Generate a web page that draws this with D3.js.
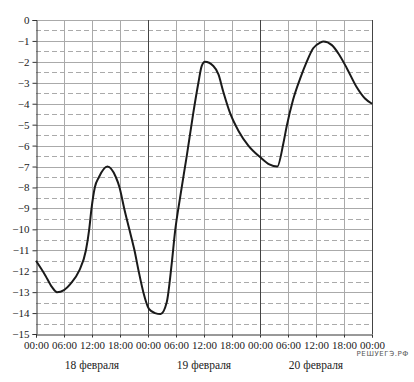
<!DOCTYPE html>
<html><head><meta charset="utf-8">
<script src="https://cdn.jsdelivr.net/npm/d3@7"></script>
<style>html,body{margin:0;padding:0;background:#fff}svg{display:block}
.serif text, text.serif{font-family:"Liberation Serif","DejaVu Serif","Times New Roman",serif !important;}</style>
</head><body>
<script>
// Data (hours since 18 Feb 00:00, temperature °C)
const hours = [0,2,3.4,4.5,6,7.6,9.2,10.7,11.4,11.9,12.6,13.5,15.3,17.1,17.9,18.9,20,21.1,22.0,23.0,24.2,25.5,26.7,28,29.1,29.8,30.9,32.3,33.7,34.8,35.5,36.2,38,39.1,40.1,41.6,43.4,45.5,48,50,51.7,53,53.7,55.1,56.6,58,59.4,60.9,61.6,63.4,64.8,66.6,68.7,70.5,72];
const temps = [-11.5,-12.2,-12.75,-13.0,-12.9,-12.55,-12.0,-11.0,-10.0,-9.0,-8.0,-7.5,-7.0,-7.5,-8.0,-9.0,-10.0,-11.0,-12.0,-13.0,-13.8,-14.0,-14.05,-13.5,-11.6,-10.1,-8.45,-6.5,-4.45,-3.0,-2.2,-2.0,-2.2,-2.6,-3.4,-4.45,-5.3,-6.0,-6.55,-6.9,-7.0,-5.9,-5.1,-3.8,-2.8,-2.0,-1.35,-1.08,-1.03,-1.2,-1.6,-2.3,-3.2,-3.75,-4.0];
const yTicks = [0,-1,-2,-3,-4,-5,-6,-7,-8,-9,-10,-11,-12,-13,-14,-15];
const xTickHours = [0,6,12,18,24,30,36,42,48,54,60,66,72];
const xTickLabels = ["00:00","06:00","12:00","18:00","00:00","06:00","12:00","18:00","00:00","06:00","12:00","18:00","00:00"];
const dayLabels = ["18 февраля","19 февраля","20 февраля"];
const dayCenters = [12,36,60];
const dayLines = [24,48,72];

const W=414,H=382;
const x=d3.scaleLinear().domain([0,72]).range([36,372]);
const y=d3.scaleLinear().domain([-15,0]).range([334,20]);
const svg=d3.select("body").append("svg").attr("width",W).attr("height",H);

// half-unit dashed grid
const halves=d3.range(-14.5,0,1);
svg.append("g").selectAll("line").data(halves).join("line")
 .attr("x1",x(0)).attr("x2",x(72)).attr("y1",d=>Math.round(y(d))+0.5).attr("y2",d=>Math.round(y(d))+0.5)
 .attr("stroke","#aaa").attr("stroke-width",1).attr("stroke-dasharray","5,3");
// integer solid grid
svg.append("g").selectAll("line").data(yTicks.filter(d=>d>-15)).join("line")
 .attr("x1",x(0)).attr("x2",x(72)).attr("y1",d=>Math.round(y(d))+0.5).attr("y2",d=>Math.round(y(d))+0.5)
 .attr("stroke","#aaa").attr("stroke-width",1);
// vertical grid
svg.append("g").selectAll("line").data(xTickHours.filter(h=>h>0 && !dayLines.includes(h))).join("line")
 .attr("x1",d=>Math.round(x(d))+0.5).attr("x2",d=>Math.round(x(d))+0.5).attr("y1",y(0)).attr("y2",y(-15))
 .attr("stroke","#aaa").attr("stroke-width",1);
svg.append("g").selectAll("line").data(dayLines).join("line")
 .attr("x1",d=>Math.round(x(d))+0.5).attr("x2",d=>Math.round(x(d))+0.5).attr("y1",y(0)).attr("y2",y(-15))
 .attr("stroke","#444").attr("stroke-width",1);

// axes
const yAxis=d3.axisLeft(y).tickValues(yTicks).tickSize(4).tickPadding(3)
 .tickFormat(d=>d===0?"0":"\u2212"+Math.abs(d));
const gy=svg.append("g").attr("class","serif").attr("transform",`translate(${Math.round(x(0))+0.5},0)`).call(yAxis);
gy.attr("font-family",null).attr("font-size",null);
gy.select(".domain").attr("stroke","#333");
gy.selectAll(".tick line").attr("stroke","#333");
gy.selectAll("text").style("font-size","11px").attr("fill","#222");

const xAxis=d3.axisBottom(x).tickValues(xTickHours).tickSize(3).tickPadding(4)
 .tickFormat((d,i)=>xTickLabels[i]);
const gx=svg.append("g").attr("class","serif").attr("transform",`translate(0,${Math.round(y(-15))+0.5})`).call(xAxis);
gx.attr("font-family",null).attr("font-size",null);
gx.select(".domain").attr("stroke","#333");
gx.selectAll(".tick line").attr("stroke","#333");
gx.selectAll("text").style("font-size","11px").attr("fill","#222");

// day labels
svg.append("g").attr("class","serif").selectAll("text").data(dayLabels).join("text")
 .attr("x",(d,i)=>x(dayCenters[i])).attr("y",369).attr("text-anchor","middle")
 .style("font-size","11.5px").attr("fill","#222").text(d=>d);

// curve
const line=d3.line().x((d,i)=>x(hours[i])).y(d=>y(d)).curve(d3.curveMonotoneX);
svg.append("path").attr("d",line(temps)).attr("fill","none").attr("stroke","#1a1a1a").attr("stroke-width",2);

// watermark
svg.append("text").attr("x",409).attr("y",356).attr("text-anchor","end")
 .style("font-family","'DejaVu Sans',sans-serif").style("font-size","7px").attr("letter-spacing",0.6)
 .attr("fill","#555").text("РЕШУЕГЭ.РФ");
</script>
</body></html>
